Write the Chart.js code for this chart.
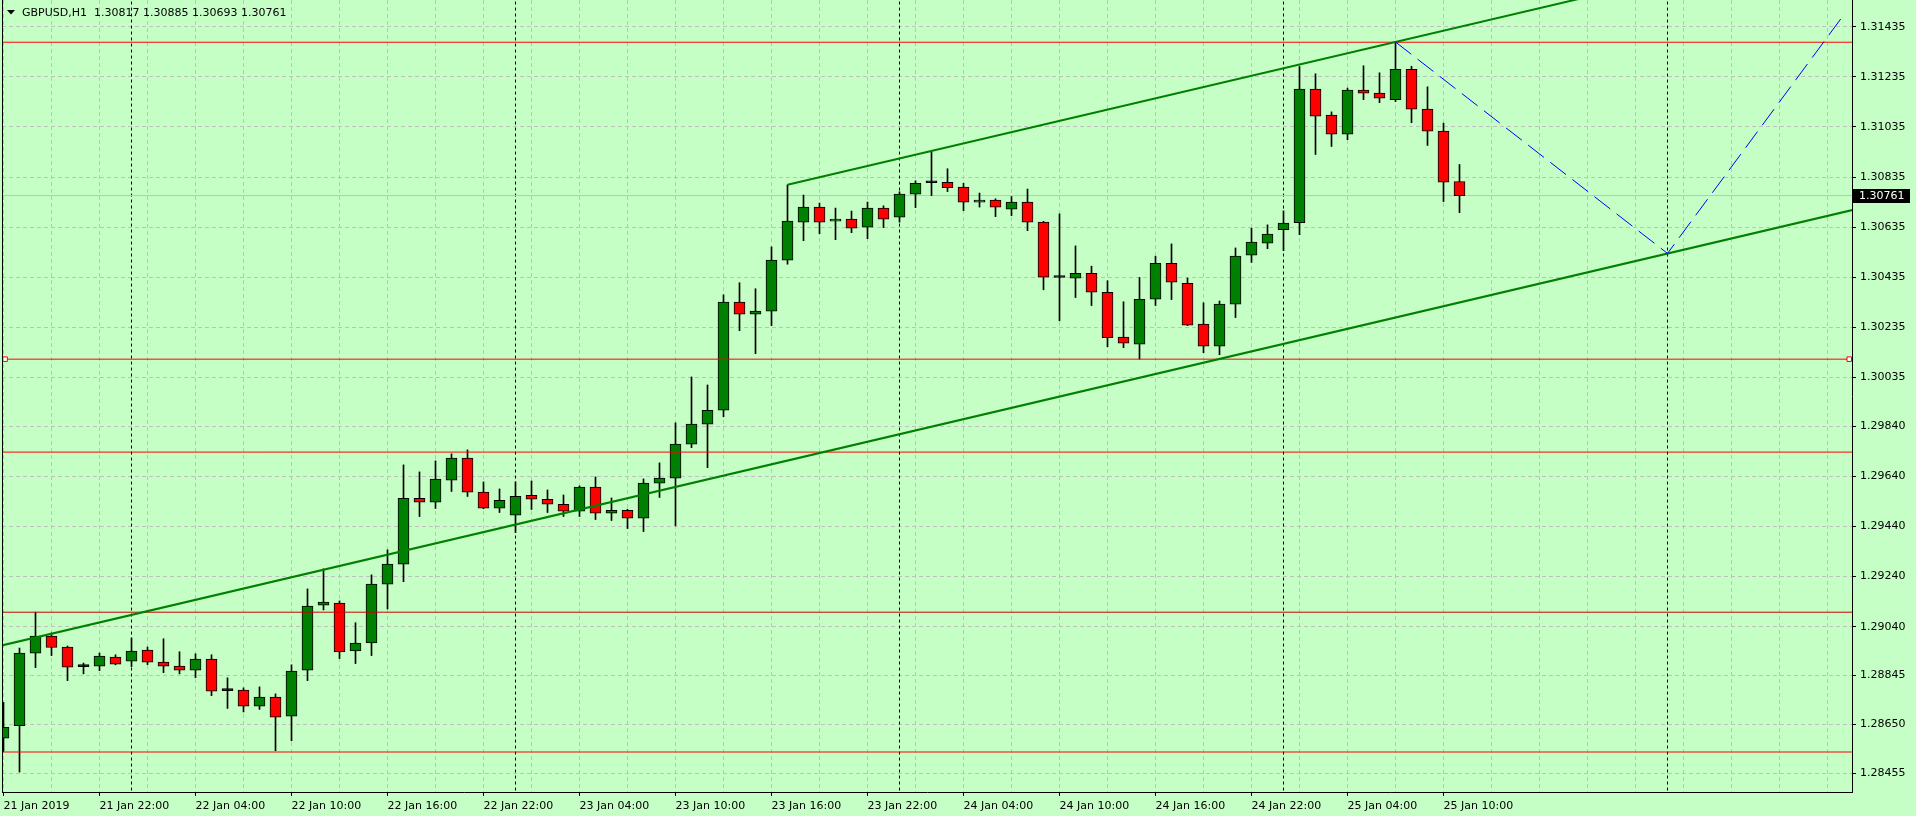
<!DOCTYPE html>
<html>
<head>
<meta charset="utf-8">
<title>GBPUSD,H1</title>
<script src="https://cdn.jsdelivr.net/npm/chart.js@4.4.1/dist/chart.umd.min.js"></script>
<style>
  html, body { margin: 0; padding: 0; background: #c6ffc6; overflow: hidden; }
  #wrap { width: 1916px; height: 816px; }
</style>
</head>
<body>
<div id="wrap"><canvas id="chart" width="1916" height="816"></canvas></div>
<script>
// GBPUSD H1 bars, one per hour from 21 Jan 16:00 to 25 Jan 11:00
const opens = [
    1.28595, 1.28645, 1.28935, 1.29003, 1.28959, 1.28881, 1.28883, 1.28919, 1.28903, 1.28947,
    1.28899, 1.28883, 1.28867, 1.28911, 1.28785, 1.28787, 1.28723, 1.28759, 1.28683, 1.28867,
    1.29126, 1.29134, 1.28943, 1.28975, 1.29210, 1.29290, 1.29553, 1.29537, 1.29625, 1.29713,
    1.29577, 1.29513, 1.29485, 1.29565, 1.29549, 1.29529, 1.29501, 1.29597, 1.29493, 1.29505,
    1.29473, 1.29613, 1.29633, 1.29769, 1.29849, 1.29904, 1.30336, 1.30288, 1.30300, 1.30503,
    1.30655, 1.30715, 1.30659, 1.30667, 1.30635, 1.30711, 1.30675, 1.30767, 1.30812, 1.30814,
    1.30795, 1.30735, 1.30743, 1.30707, 1.30735, 1.30655, 1.30434, 1.30431, 1.30451, 1.30375,
    1.30196, 1.30168, 1.30347, 1.30491, 1.30411, 1.30248, 1.30160, 1.30328, 1.30523, 1.30571,
    1.30625, 1.30653, 1.31186, 1.31082, 1.31006, 1.31182, 1.31170, 1.31144, 1.31265, 1.31106,
    1.31018, 1.30817
];
const highs = [
    1.28738, 1.28955, 1.29098, 1.29015, 1.28963, 1.28895, 1.28935, 1.28928, 1.28995, 1.28959,
    1.28992, 1.28940, 1.28932, 1.28928, 1.28836, 1.28796, 1.28800, 1.28772, 1.28888, 1.29191,
    1.29271, 1.29143, 1.29056, 1.29247, 1.29347, 1.29686, 1.29658, 1.29702, 1.29730, 1.29746,
    1.29618, 1.29590, 1.29618, 1.29622, 1.29586, 1.29566, 1.29602, 1.29638, 1.29554, 1.29509,
    1.29630, 1.29694, 1.29854, 1.30037, 1.30005, 1.30365, 1.30413, 1.30389, 1.30556, 1.30804,
    1.30763, 1.30731, 1.30711, 1.30699, 1.30735, 1.30720, 1.30776, 1.30820, 1.30937, 1.30868,
    1.30810, 1.30771, 1.30748, 1.30757, 1.30787, 1.30658, 1.30688, 1.30560, 1.30479, 1.30421,
    1.30337, 1.30434, 1.30519, 1.30568, 1.30432, 1.30333, 1.30340, 1.30552, 1.30631, 1.30644,
    1.30700, 1.31276, 1.31247, 1.31095, 1.31190, 1.31279, 1.31251, 1.31374, 1.31277, 1.31195,
    1.31050, 1.30885
];
const lows = [
    1.28542, 1.28460, 1.28877, 1.28925, 1.28825, 1.28852, 1.28865, 1.28888, 1.28881, 1.28889,
    1.28857, 1.28852, 1.28837, 1.28765, 1.28714, 1.28700, 1.28710, 1.28545, 1.28585, 1.28825,
    1.29107, 1.28913, 1.28893, 1.28925, 1.29111, 1.29220, 1.29480, 1.29512, 1.29580, 1.29560,
    1.29511, 1.29496, 1.29416, 1.29508, 1.29496, 1.29480, 1.29480, 1.29468, 1.29464, 1.29432,
    1.29420, 1.29556, 1.29443, 1.29755, 1.29675, 1.29878, 1.30222, 1.30130, 1.30242, 1.30487,
    1.30581, 1.30609, 1.30585, 1.30613, 1.30589, 1.30633, 1.30655, 1.30713, 1.30761, 1.30777,
    1.30701, 1.30715, 1.30677, 1.30681, 1.30621, 1.30385, 1.30261, 1.30354, 1.30322, 1.30157,
    1.30154, 1.30108, 1.30322, 1.30346, 1.30242, 1.30134, 1.30126, 1.30274, 1.30494, 1.30549,
    1.30541, 1.30605, 1.30925, 1.30957, 1.30984, 1.31144, 1.31132, 1.31136, 1.31052, 1.30961,
    1.30737, 1.30693
];
const closes = [
    1.28639, 1.28935, 1.29003, 1.28957, 1.28879, 1.28881, 1.28923, 1.28891, 1.28943, 1.28899,
    1.28883, 1.28867, 1.28911, 1.28783, 1.28785, 1.28723, 1.28759, 1.28679, 1.28863, 1.29122,
    1.29138, 1.28939, 1.28975, 1.29210, 1.29290, 1.29553, 1.29537, 1.29629, 1.29713, 1.29577,
    1.29513, 1.29545, 1.29561, 1.29549, 1.29529, 1.29501, 1.29597, 1.29493, 1.29505, 1.29473,
    1.29613, 1.29633, 1.29769, 1.29849, 1.29904, 1.30336, 1.30288, 1.30300, 1.30503, 1.30659,
    1.30715, 1.30655, 1.30667, 1.30631, 1.30711, 1.30667, 1.30767, 1.30810, 1.30812, 1.30793,
    1.30735, 1.30743, 1.30715, 1.30735, 1.30655, 1.30435, 1.30434, 1.30451, 1.30375, 1.30194,
    1.30172, 1.30347, 1.30491, 1.30415, 1.30244, 1.30160, 1.30328, 1.30519, 1.30575, 1.30607,
    1.30651, 1.31186, 1.31078, 1.31006, 1.31182, 1.31170, 1.31150, 1.31265, 1.31106, 1.31018,
    1.30814, 1.30761
];

// one time label every 6 bars, starting at bar 0
const timeLabels = [
    '21 Jan 2019', '21 Jan 22:00', '22 Jan 04:00', '22 Jan 10:00', '22 Jan 16:00', '22 Jan 22:00',
    '23 Jan 04:00', '23 Jan 10:00', '23 Jan 16:00', '23 Jan 22:00', '24 Jan 04:00', '24 Jan 10:00',
    '24 Jan 16:00', '24 Jan 22:00', '25 Jan 04:00', '25 Jan 10:00'
];
const priceTicks = [
    1.31435, 1.31235, 1.31035, 1.30835, 1.30635, 1.30435, 1.30235, 1.30035,
    1.29840, 1.29640, 1.29440, 1.29240, 1.29040, 1.28845, 1.28650, 1.28455
];

// drawn objects
const redLevels = [1.31373, 1.30108, 1.29737, 1.28540];
const darkLevels = [1.29098];
const selectedLevel = [{ x: 0.1, y: 1.30108 }, { x: 115.36, y: 1.30108 }];
const separatorBars = [8, 32, 56, 80, 104];
const upperChannel = [{ x: 49, y: 1.30804 }, { x: 100, y: 1.31569 }];
const lowerChannel = [{ x: -1, y: 1.28952 }, { x: 116, y: 1.30710 }];
const zigzag = [{ x: 87, y: 1.31374 }, { x: 104, y: 1.30530 }, { x: 115.06, y: 1.31486 }];

const symbolTitle = 'GBPUSD,H1';

// view window (bars / price)
const X_MIN = -0.09375, X_MAX = 115.53125;
const Y_MIN = 1.2838038, Y_MAX = 1.3154157;

const BG = '#c6ffc6';
const BULL = '#008000';
const BEAR = '#ff0000';
const GRID = '#c0c0c0';
const FONT = '"DejaVu Sans", Verdana, sans-serif';

const barIdx = opens.map((_, i) => i);
const bodyColors = barIdx.map(i =>
    opens[i] === closes[i] ? '#000000' : (closes[i] > opens[i] ? BULL : BEAR));

const hLine = (price, color, order) => ({
    type: 'line',
    data: [{ x: X_MIN - 1, y: price }, { x: X_MAX + 1, y: price }],
    borderColor: color,
    borderWidth: 1,
    pointRadius: 0,
    order
});

const datasets = [];

// period separators (behind everything)
separatorBars.forEach(b => {
    datasets.push({
        type: 'line',
        data: [{ x: b, y: Y_MIN - 0.01 }, { x: b, y: Y_MAX + 0.01 }],
        borderColor: '#000000',
        borderWidth: 1,
        borderDash: [3, 3],
        pointRadius: 0,
        order: 20
    });
});

// bid line
datasets.push(hLine(closes[closes.length - 1], '#c0c0c0', 19));

// wicks
datasets.push({
    type: 'bar',
    data: barIdx.map(i => ({ x: i, y: [lows[i], highs[i]] })),
    backgroundColor: '#000000',
    borderWidth: 0,
    barThickness: 1,
    grouped: false,
    order: 11
});

// bodies
datasets.push({
    type: 'bar',
    data: barIdx.map(i => ({ x: i, y: [opens[i], closes[i]] })),
    backgroundColor: bodyColors,
    borderColor: '#000000',
    borderWidth: 1,
    borderSkipped: false,
    barThickness: 11,
    minBarLength: 2,
    grouped: false,
    order: 10
});

redLevels.forEach(p => datasets.push(hLine(p, '#ff0000', 4)));
darkLevels.forEach(p => datasets.push(hLine(p, '#c80000', 4)));

datasets.push({
    type: 'line', data: upperChannel, borderColor: BULL, borderWidth: 2,
    pointRadius: 0, order: 3
});
datasets.push({
    type: 'line', data: lowerChannel, borderColor: BULL, borderWidth: 2,
    pointRadius: 0, order: 3
});
datasets.push({
    type: 'line', data: zigzag, borderColor: '#0000ff', borderWidth: 1,
    borderDash: [20, 8], pointRadius: 0, order: 2
});
datasets.push({
    type: 'scatter', data: selectedLevel, showLine: false,
    pointStyle: 'rect', pointRadius: 3.2, pointBorderWidth: 1,
    pointBorderColor: '#ff0000', pointBackgroundColor: '#ffffff', order: 1
});

const bgPlugin = {
    id: 'bg',
    beforeDraw(chart) {
        const c = chart.ctx;
        c.save();
        c.fillStyle = BG;
        c.fillRect(0, 0, chart.width, chart.height);
        c.restore();
    }
};

const overlayPlugin = {
    id: 'overlay',
    afterDraw(chart) {
        const { ctx, chartArea: a } = chart;
        const yScale = chart.scales.y;
        const n = closes.length - 1;
        ctx.save();

        // left frame
        ctx.strokeStyle = '#000';
        ctx.lineWidth = 1;
        ctx.beginPath();
        ctx.moveTo(a.left + 0.5, a.top);
        ctx.lineTo(a.left + 0.5, a.bottom);
        ctx.stroke();

        // title: symbol and OHLC of the current bar
        ctx.fillStyle = '#000';
        ctx.beginPath();
        ctx.moveTo(7, 10);
        ctx.lineTo(15, 10);
        ctx.lineTo(11, 14.5);
        ctx.closePath();
        ctx.fill();
        ctx.font = '11px ' + FONT;
        ctx.textBaseline = 'middle';
        ctx.textAlign = 'left';
        const ohlc = [opens[n], highs[n], lows[n], closes[n]].map(v => v.toFixed(5)).join(' ');
        ctx.fillText(symbolTitle + '  ' + ohlc, 22, 13);

        // bid price tag
        const py = Math.round(yScale.getPixelForValue(closes[n]));
        ctx.fillStyle = '#000';
        ctx.fillRect(a.right + 1, py - 7, 57, 14);
        ctx.fillStyle = '#ffffff';
        ctx.fillText(closes[n].toFixed(5), a.right + 7, py);
        ctx.restore();
    }
};

const xTicks = [];
for (let v = 0; v <= X_MAX; v += 3) xTicks.push(v);
const isLabelled = v => v % 6 === 0 && v / 6 < timeLabels.length;

new Chart(document.getElementById('chart'), {
    type: 'bar',
    data: { datasets },
    plugins: [bgPlugin, overlayPlugin],
    options: {
        responsive: false,
        animation: false,
        events: [],
        devicePixelRatio: 1,
        layout: { autoPadding: false, padding: { left: 2, top: 0, right: 0, bottom: 0 } },
        plugins: { legend: { display: false }, tooltip: { enabled: false }, title: { display: false } },
        scales: {
            x: {
                type: 'linear',
                min: X_MIN,
                max: X_MAX,
                offset: false,
                afterBuildTicks: s => { s.ticks = xTicks.map(v => ({ value: v })); },
                afterFit: s => {
                    s.height = 24;
                    s.paddingLeft = s.paddingRight = s.paddingTop = s.paddingBottom = 0;
                },
                grid: {
                    offset: false,
                    color: GRID,
                    lineWidth: 1,
                    tickLength: 4,
                    tickColor: ctx => (ctx.tick && isLabelled(ctx.tick.value)) ? '#000000' : 'rgba(0,0,0,0)',
                    tickBorderDash: []
                },
                border: { display: true, color: '#000000', width: 1, dash: [4, 3] },
                ticks: {
                    autoSkip: false,
                    maxRotation: 0,
                    minRotation: 0,
                    align: 'start',
                    padding: 4,
                    color: '#000000',
                    font: { family: FONT, size: 11 },
                    callback: v => isLabelled(v) ? timeLabels[v / 6] : ''
                }
            },
            y: {
                type: 'linear',
                position: 'right',
                min: Y_MIN,
                max: Y_MAX,
                beginAtZero: false,
                afterBuildTicks: s => { s.ticks = priceTicks.map(v => ({ value: v })); },
                afterFit: s => {
                    s.width = 64;
                    s.paddingLeft = s.paddingRight = s.paddingTop = s.paddingBottom = 0;
                },
                grid: {
                    color: GRID,
                    lineWidth: 1,
                    tickLength: 4,
                    tickColor: '#000000',
                    tickBorderDash: []
                },
                border: { display: true, color: '#000000', width: 1, dash: [4, 3] },
                ticks: {
                    autoSkip: false,
                    padding: 4,
                    color: '#000000',
                    font: { family: FONT, size: 11 },
                    callback: v => v.toFixed(5)
                }
            }
        }
    }
});
</script>
</body>
</html>
